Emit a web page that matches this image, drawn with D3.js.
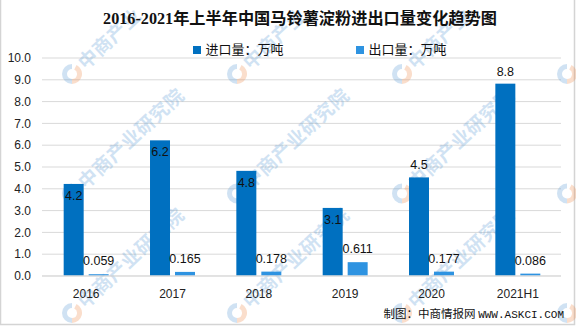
<!DOCTYPE html>
<html>
<head>
<meta charset="utf-8">
<script src="https://cdn.jsdelivr.net/npm/d3@7"></script>
<style>
  html, body { margin: 0; padding: 0; background: #fff; }
  svg { display: block; }
</style>
</head>
<body>
<svg id="chart" width="576" height="326"></svg>
<script>
// ---- data ----
const categories = ["2016", "2017", "2018", "2019", "2020", "2021H1"];
const importValues = [4.2, 6.2, 4.8, 3.1, 4.5, 8.8];
const exportValues = [0.059, 0.165, 0.178, 0.611, 0.177, 0.086];
const importLabels = ["4.2", "6.2", "4.8", "3.1", "4.5", "8.8"];
const exportLabels = ["0.059", "0.165", "0.178", "0.611", "0.177", "0.086"];
const importLabelPlacement = ["inside", "inside", "inside", "inside", "above", "above"];
const yTicks = [0, 1, 2, 3, 4, 5, 6, 7, 8, 9, 10];
const seriesNames = ["进口量：万吨", "出口量：万吨"];
const titleText = "2016-2021年上半年中国马铃薯淀粉进出口量变化趋势图";
const sourceText = "制图：中商情报网";
const sourceUrl = "WWW.ASKCI.COM";
const watermarkText = "中商产业研究院";

// ---- styles ----
const colors = ["#0070C0", "#2E93E1"];
const numFont = "'Liberation Sans', Arial, 'Noto Sans CJK SC', sans-serif";
const cjkFont = "'Noto Sans CJK SC', 'Liberation Sans', sans-serif";

const svg = d3.select("#chart");

// frame
svg.append("path")
  .attr("d", "M0.5,0 V324.5 H574.5 V0")
  .attr("fill", "none").attr("stroke", "#d4d4d4").attr("stroke-width", 1.5);

// scales
const x0 = d3.scaleBand().domain(categories).range([43, 561]).paddingInner(0.479).paddingOuter(0.2395);
const x1 = d3.scaleBand().domain([0, 1]).range([0, x0.bandwidth()]).paddingInner(0.2).paddingOuter(0);
const y = d3.scaleLinear().domain([0, 10]).range([275.5, 57.5]);

// gridlines
const yAxis = d3.axisLeft(y).tickValues(yTicks).tickSize(-(561 - 42)).tickFormat(d3.format(".1f"));
const gAxis = svg.append("g").attr("transform", "translate(42,0)").call(yAxis);
gAxis.select(".domain").remove();
gAxis.selectAll(".tick line").attr("stroke", "#d9d9d9").attr("stroke-width", 1);
gAxis.selectAll(".tick text")
  .attr("x", -11).attr("dy", "0.35em")
  .attr("fill", "#222").style("font-family", numFont).style("font-size", "12px");

// watermark (decoration, drawn per character so nothing is clipped)
const wm = svg.append("g").attr("pointer-events", "none");
const ang = -43 * Math.PI / 180;
for (let gx2 = -93; gx2 < 600; gx2 += 165) {
  for (let gy = 74; gy < 360; gy += 119.5) {
    if (gx2 > -20 && gx2 < 575 && gy < 318) {
      const g = wm.append("g").attr("transform", `translate(${gx2},${gy})`).attr("opacity", 0.28);
      const arc = d3.arc().innerRadius(5).outerRadius(10);
      g.append("path").attr("d", arc({startAngle: Math.PI * 0.15, endAngle: Math.PI * 1.0})).attr("fill", "#f08a4b");
      g.append("path").attr("d", arc({startAngle: Math.PI * 1.0, endAngle: Math.PI * 2.0})).attr("fill", "#5b9bd5");
    }
    Array.from(watermarkText).forEach((ch, k) => {
      const dist = 22 + k * 19.5;
      const cx = gx2 + dist * Math.cos(ang);
      const cy = gy + dist * Math.sin(ang);
      if (cx < 10 || cx > 565 || cy < 10 || cy > 316) return;
      wm.append("text")
        .attr("transform", `translate(${cx},${cy}) rotate(-43)`)
        .attr("text-anchor", "middle").attr("dy", "0.36em")
        .attr("opacity", 0.28)
        .style("font-family", cjkFont).style("font-size", "19px").style("font-weight", "bold")
        .attr("fill", "#5b9bd5")
        .text(ch);
    });
  }
}

// bars
const groups = svg.append("g").selectAll("g").data(categories).join("g")
  .attr("transform", d => `translate(${x0(d)},0)`);

groups.append("rect")
  .attr("x", x1(0)).attr("width", x1.bandwidth())
  .attr("y", (d, i) => y(importValues[i]))
  .attr("height", (d, i) => y(0) - y(importValues[i]))
  .attr("fill", colors[0]);

groups.append("rect")
  .attr("x", x1(1)).attr("width", x1.bandwidth())
  .attr("y", (d, i) => y(exportValues[i]))
  .attr("height", (d, i) => y(0) - y(exportValues[i]))
  .attr("fill", colors[1]);

// data labels
groups.append("text")
  .attr("x", x1(0) + x1.bandwidth() / 2)
  .attr("y", (d, i) => importLabelPlacement[i] === "inside" ? y(importValues[i]) + 16 : y(importValues[i]) - 8)
  .attr("text-anchor", "middle")
  .attr("fill", "#111").style("font-family", numFont).style("font-size", "12.5px")
  .text((d, i) => importLabels[i]);

groups.append("text")
  .attr("x", x1(1) + x1.bandwidth() / 2)
  .attr("y", (d, i) => y(exportValues[i]) - 9)
  .attr("text-anchor", "middle")
  .attr("fill", "#111").style("font-family", numFont).style("font-size", "12.5px")
  .text((d, i) => exportLabels[i]);

// faint watermark overlay on bars area is approximated by watermark drawn beneath

// x axis labels
const xAxis = d3.axisBottom(x0).tickSize(0).tickPadding(0);
const gx = svg.append("g").attr("transform", `translate(0,${y(0)})`).call(xAxis);
gx.select(".domain").attr("stroke", "#d9d9d9").attr("d", `M42,0.5H561`);
gx.selectAll(".tick text").attr("y", 22).attr("dy", 0)
  .attr("fill", "#222").style("font-family", numFont).style("font-size", "12px");

// title
svg.append("text")
  .attr("x", 300).attr("y", 24)
  .attr("text-anchor", "middle")
  .style("font-family", "'Liberation Serif', 'Noto Sans CJK SC', serif")
  .style("font-size", "16.2px").style("font-weight", "bold")
  .attr("fill", "#111")
  .text(titleText);

// legend
const legendX = [193, 356];
seriesNames.forEach((name, i) => {
  const g = svg.append("g").attr("transform", `translate(${legendX[i]},0)`);
  g.append("rect").attr("x", 0).attr("y", 46).attr("width", 8).attr("height", 8).attr("fill", colors[i]);
  g.append("text").attr("x", 12.5).attr("y", 54)
    .style("font-family", cjkFont).style("font-size", "13px").attr("fill", "#111")
    .text(name);
});

// source
const src = svg.append("text")
  .attr("x", 564).attr("y", 317.5)
  .attr("text-anchor", "end").attr("fill", "#111");
src.append("tspan").style("font-family", cjkFont).style("font-size", "11.5px").text(sourceText + " ");
src.append("tspan").style("font-family", "'Liberation Mono', 'DejaVu Sans Mono', monospace").style("font-size", "11px").text(sourceUrl);
</script>
</body>
</html>
